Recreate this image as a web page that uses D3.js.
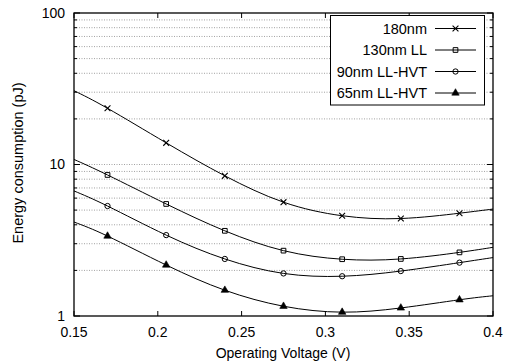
<!DOCTYPE html>
<html><head><meta charset="utf-8">
<script src="https://cdn.jsdelivr.net/npm/d3@7"></script>
<style>body{margin:0;background:#fff}svg{display:block}text{font-family:"Liberation Sans",Arial,sans-serif}</style>
</head><body><svg id="c" width="507" height="362"></svg>
<script>
const voltages = [0.15, 0.17, 0.205, 0.24, 0.275, 0.31, 0.345, 0.38, 0.4];
const markerVoltages = [0.17, 0.205, 0.24, 0.275, 0.31, 0.345, 0.38];
const seriesNames = ["180nm", "130nm LL", "90nm LL-HVT", "65nm LL-HVT"];
const e180 = [30.7, 23.5, 13.9, 8.42, 5.64, 4.59, 4.40, 4.77, 5.08];
const e130 = [10.8, 8.53, 5.49, 3.65, 2.70, 2.37, 2.38, 2.63, 2.84];
const e90  = [6.69, 5.32, 3.42, 2.38, 1.91, 1.83, 1.98, 2.25, 2.43];
const e65  = [4.17, 3.37, 2.17, 1.48, 1.16, 1.06, 1.13, 1.28, 1.36];
const xTicks = [0.15, 0.2, 0.25, 0.3, 0.35, 0.4];
const yTicks = [1, 10, 100];
const markers = ["cross", "square", "circle", "triangle"];

const series = [e180, e130, e90, e65];
const svg = d3.select("#c");
const L = 74, R = 493, T = 13, B = 316;
const x = d3.scaleLinear().domain([0.15, 0.4]).range([L, R]);
const y = d3.scaleLog().domain([1, 100]).range([B, T]);

// minor gridlines
const minors = [];
for (let d = 1; d <= 10; d *= 10) for (let k = 2; k <= 9; k++) minors.push(k * d);
const grid = svg.append("g");
grid.selectAll("line").data(minors.concat([10])).join("line")
  .attr("x1", L).attr("x2", R).attr("y1", d => y(d)).attr("y2", d => y(d))
  .attr("stroke", "#8a8a8a").attr("stroke-width", 0.8).attr("stroke-dasharray", "1,1.5");

// ticks
const tk = svg.append("g").attr("stroke", "#000").attr("stroke-width", 1);
yTicks.forEach(v => {
  tk.append("line").attr("x1", L).attr("x2", L + 6).attr("y1", y(v)).attr("y2", y(v));
  tk.append("line").attr("x1", R).attr("x2", R - 6).attr("y1", y(v)).attr("y2", y(v));
});
minors.forEach(v => {
  tk.append("line").attr("x1", L).attr("x2", L + 3).attr("y1", y(v)).attr("y2", y(v));
  tk.append("line").attr("x1", R).attr("x2", R - 3).attr("y1", y(v)).attr("y2", y(v));
});
xTicks.forEach(v => {
  tk.append("line").attr("x1", x(v)).attr("x2", x(v)).attr("y1", B).attr("y2", B - 5);
  tk.append("line").attr("x1", x(v)).attr("x2", x(v)).attr("y1", T).attr("y2", T + 5);
});

// labels
svg.append("g").selectAll("text").data(yTicks).join("text")
  .attr("x", L - 9).attr("y", d => y(d)).attr("dy", "0.35em").attr("text-anchor", "end")
  .attr("font-size", 14).text(d => d);
svg.append("g").selectAll("text").data(xTicks).join("text")
  .attr("x", d => x(d)).attr("y", B + 21).attr("text-anchor", "middle")
  .attr("font-size", 14).text(d => d);
svg.append("text").attr("x", 283).attr("y", 358).attr("text-anchor", "middle")
  .attr("font-size", 14).text("Operating Voltage (V)");
svg.append("text").attr("transform", `translate(23,163) rotate(-90)`)
  .attr("text-anchor", "middle").attr("font-size", 14.5).text("Energy consumption (pJ)");

// curves
const line = d3.line().x(d => x(d[0])).y(d => y(d[1])).curve(d3.curveNatural);
const sym = {
  cross: d3.symbolX, square: d3.symbolSquare, circle: d3.symbolCircle, triangle: d3.symbolTriangle
};
function drawMarker(g, type, cx, cy) {
  const size = type === "cross" ? 24 : type === "triangle" ? 24 : 22;
  const p = g.append("path").attr("d", d3.symbol().type(sym[type]).size(size)())
    .attr("transform", `translate(${cx},${cy})`);
  if (type === "triangle") p.attr("fill", "#000").attr("stroke", "#000").attr("stroke-width", 0.6);
  else if (type === "cross") p.attr("fill", "none").attr("stroke", "#000").attr("stroke-width", 1.1);
  else p.attr("fill", "none").attr("stroke", "#000").attr("stroke-width", 1);
}
const plot = svg.append("g");
series.forEach((s, i) => {
  const pts = voltages.map((v, j) => [v, s[j]]);
  plot.append("path").attr("d", line(pts)).attr("fill", "none").attr("stroke", "#000").attr("stroke-width", 1);
  markerVoltages.forEach(mv => {
    const j = voltages.indexOf(mv);
    drawMarker(plot, markers[i], x(mv), y(s[j]));
  });
});

// frame
svg.append("rect").attr("x", L).attr("y", T).attr("width", R - L).attr("height", B - T)
  .attr("fill", "none").attr("stroke", "#000").attr("stroke-width", 1.3);

// legend
const lg = svg.append("g");
lg.append("rect").attr("x", 330.5).attr("y", 15.5).attr("width", 154).attr("height", 89.5)
  .attr("fill", "#fff").attr("stroke", "#000").attr("stroke-width", 1);
seriesNames.forEach((n, i) => {
  const yy = 28.5 + i * 21.5;
  lg.append("text").attr("x", 427).attr("y", yy).attr("dy", "0.35em").attr("text-anchor", "end")
    .attr("font-size", 14.5).text(n);
  lg.append("line").attr("x1", 435).attr("x2", 476).attr("y1", yy).attr("y2", yy)
    .attr("stroke", "#000").attr("stroke-width", 1);
  drawMarker(lg, markers[i], 455.5, yy);
});
</script></body></html>
